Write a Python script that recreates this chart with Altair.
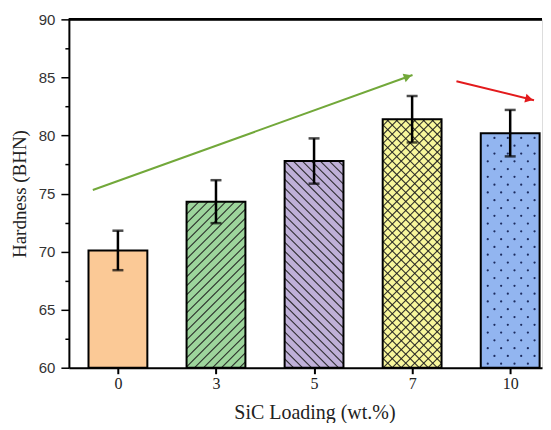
import math
import altair as alt
import pandas as pd

# ---------------- data ----------------
loading = ["0", "3", "5", "7", "10"]
hardness = [70.1, 74.3, 77.8, 81.4, 80.2]
err = [1.7, 1.85, 1.95, 2.0, 2.0]
fills = ["#FBC996", "#9DD59C", "#BFB0D8", "#F8F79C", "#92B5F0"]
patterns = ["none", "fwd", "back", "cross", "dots"]

arrow_x0 = [-0.256, 3.452]
arrow_y0 = [75.3, 84.67]
arrow_x1 = [3.004, 4.243]
arrow_y1 = [85.21, 83.04]
arrow_colors = ["#72A83A", "#E31A1C"]

# ---------------- layout ----------------
W, H = 474, 349
STEP = 98.25
XMIN, XMAX = -0.5, -0.5 + W / STEP
YMIN, YMAX = 60, 90
YPX = H / (YMAX - YMIN)
HALF = 0.3

def to_dx(px):
    return px / STEP - 0.5

def to_dy(py):
    return YMIN + py / YPX

idx = list(range(len(loading)))
bars = pd.DataFrame({
    "i": idx,
    "lab": loading,
    "xl": [i - HALF for i in idx],
    "xr": [i + HALF for i in idx],
    "base": [YMIN] * len(idx),
    "v": hardness,
    "lo": [h - e for h, e in zip(hardness, err)],
    "hi": [h + e for h, e in zip(hardness, err)],
    "fill": fills,
})

# hatch geometry derived from bar values
segs = []
dots = []
s = 9.0
for i, v, p in zip(idx, hardness, patterns):
    x0 = (i - HALF + 0.5) * STEP
    x1 = (i + HALF + 0.5) * STEP
    y0 = 0.0
    y1 = (v - YMIN) * YPX
    if p in ("fwd", "cross"):
        k0 = math.floor((x0 - y1) / s)
        k1 = math.ceil((x1 - y0) / s)
        for k in range(k0, k1 + 1):
            c = k * s
            xs = max(x0, y0 + c)
            xe = min(x1, y1 + c)
            if xe - xs > 0.8:
                segs.append((to_dx(xs), to_dy(xs - c), to_dx(xe), to_dy(xe - c)))
    if p in ("back", "cross"):
        k0 = math.floor((x0 + y0) / s)
        k1 = math.ceil((x1 + y1) / s)
        for k in range(k0, k1 + 1):
            c = k * s
            xs = max(x0, c - y1)
            xe = min(x1, c - y0)
            if xe - xs > 0.8:
                segs.append((to_dx(xs), to_dy(c - xs), to_dx(xe), to_dy(c - xe)))
    if p == "dots":
        r = 0
        yy = 4.0
        while yy < y1 - 3:
            xx = x0 + 7 + (r % 2) * 6.7
            while xx < x1 - 3:
                dots.append((to_dx(xx), to_dy(yy)))
                xx += 13.4
            yy += 7.8
            r += 1

seg_df = pd.DataFrame(segs, columns=["xa", "ya", "xb", "yb"])
dot_df = pd.DataFrame(dots, columns=["xd", "yd"])

# arrows
arr_rows = []
head_rows = []
for k in range(len(arrow_x0)):
    arr_rows.append({"a": k, "o": 0, "ax": arrow_x0[k], "ay": arrow_y0[k], "col": arrow_colors[k]})
    arr_rows.append({"a": k, "o": 1, "ax": arrow_x1[k], "ay": arrow_y1[k], "col": arrow_colors[k]})
    dxp = (arrow_x1[k] - arrow_x0[k]) * STEP
    dyp = -(arrow_y1[k] - arrow_y0[k]) * YPX
    L = math.hypot(dxp, dyp)
    ang = math.degrees(math.atan2(dyp, dxp)) % 360
    back = 5.0
    hx = arrow_x1[k] - (dxp / L) * back / STEP
    hy = arrow_y1[k] + (dyp / L) * back / YPX
    head_rows.append({"hx": hx, "hy": hy, "ang": ang, "col": arrow_colors[k]})
arr_df = pd.DataFrame(arr_rows)
head_df = pd.DataFrame(head_rows)

# ---------------- scales/axes ----------------
xscale = alt.Scale(domain=[XMIN, XMAX], nice=False, zero=False)
yscale = alt.Scale(domain=[YMIN, YMAX], nice=False, zero=False)

lab_js = "[" + ",".join("'" + l + "'" for l in loading) + "]"
xaxis = alt.Axis(
    values=idx,
    labelExpr=lab_js + "[datum.value]",
    title="SiC Loading (wt.%)",
    grid=False,
    domainColor="black",
    domainWidth=2,
    tickColor="black",
    tickWidth=2,
    tickSize=6,
    labelFont="Liberation Serif",
    labelFontSize=16,
    labelColor="#222222",
    labelPadding=2,
    titleFont="Liberation Serif",
    titleFontSize=20,
    titleFontWeight="normal",
    titleColor="#222222",
    titlePadding=11,
    titleX=246,
)
yvals = [60 + 2.5 * k for k in range(13)]
yaxis = alt.Axis(
    values=yvals,
    labelExpr="datum.value % 5 === 0 ? datum.label : ''",
    title="Hardness (BHN)",
    grid=False,
    domainColor="black",
    domainWidth=2,
    tickColor="black",
    tickWidth=1.5,
    tickSize={"condition": {"test": "datum.value % 5 === 0", "value": 8}, "value": 4},
    labelFont="Liberation Sans",
    labelFontSize=15,
    labelColor="#333333",
    labelPadding=6,
    titleFont="Liberation Serif",
    titleFontSize=19,
    titleFontWeight="normal",
    titleColor="#222222",
    titlePadding=9,
)

def X(f):
    return alt.X(f, type="quantitative", scale=xscale, axis=xaxis)

def Y(f):
    return alt.Y(f, type="quantitative", scale=yscale, axis=yaxis)

base = alt.Chart(bars)

bar_fill = base.mark_rect(strokeWidth=0).encode(
    x=X("xl"), x2="xr", y=Y("base"), y2="v",
    fill=alt.Fill("fill:N", scale=None),
)

hatch = alt.Chart(seg_df).mark_rule(color="#1e1e1e", strokeWidth=1.1, opacity=0.9).encode(
    x=X("xa"), y=Y("ya"), x2="xb", y2="yb"
)

dotl = alt.Chart(dot_df).mark_point(filled=True, size=5, color="#1c2b5e", opacity=1).encode(
    x=X("xd"), y=Y("yd")
)

bar_out = base.mark_rect(fillOpacity=0, stroke="black", strokeWidth=2).encode(
    x=X("xl"), x2="xr", y=Y("base"), y2="v"
)

ebar = base.mark_rule(color="black", strokeWidth=2.5).encode(
    x=X("i"), y=Y("lo"), y2="hi"
)
cap_hi = base.mark_tick(color="black", orient="horizontal", size=11, thickness=2.5).encode(
    x=X("i"), y=Y("hi")
)
cap_lo = base.mark_tick(color="black", orient="horizontal", size=11, thickness=2.5).encode(
    x=X("i"), y=Y("lo")
)

arrows = alt.Chart(arr_df).mark_line(strokeWidth=2).encode(
    x=X("ax"), y=Y("ay"), detail="a:N", order="o:Q",
    color=alt.Color("col:N", scale=None),
)
heads = alt.Chart(head_df).mark_point(filled=True, shape="triangle-right", size=80, opacity=1).encode(
    x=X("hx"), y=Y("hy"), angle=alt.Angle("ang:Q", scale=None),
    color=alt.Color("col:N", scale=None),
)

top_line = alt.Chart(bars).mark_rule(color="black", strokeWidth=2).encode(
    x=alt.value(0), x2=alt.value(W), y=alt.value(0)
)

chart = alt.layer(
    bar_fill, hatch, dotl, bar_out, ebar, cap_hi, cap_lo, arrows, heads, top_line
).properties(
    width=W, height=H,
    padding={"left": 2, "top": 4, "right": 0, "bottom": 0},
).configure_view(stroke=None).configure(background="white")

chart.save("out.html", embed_options={"renderer": "svg", "actions": False})
